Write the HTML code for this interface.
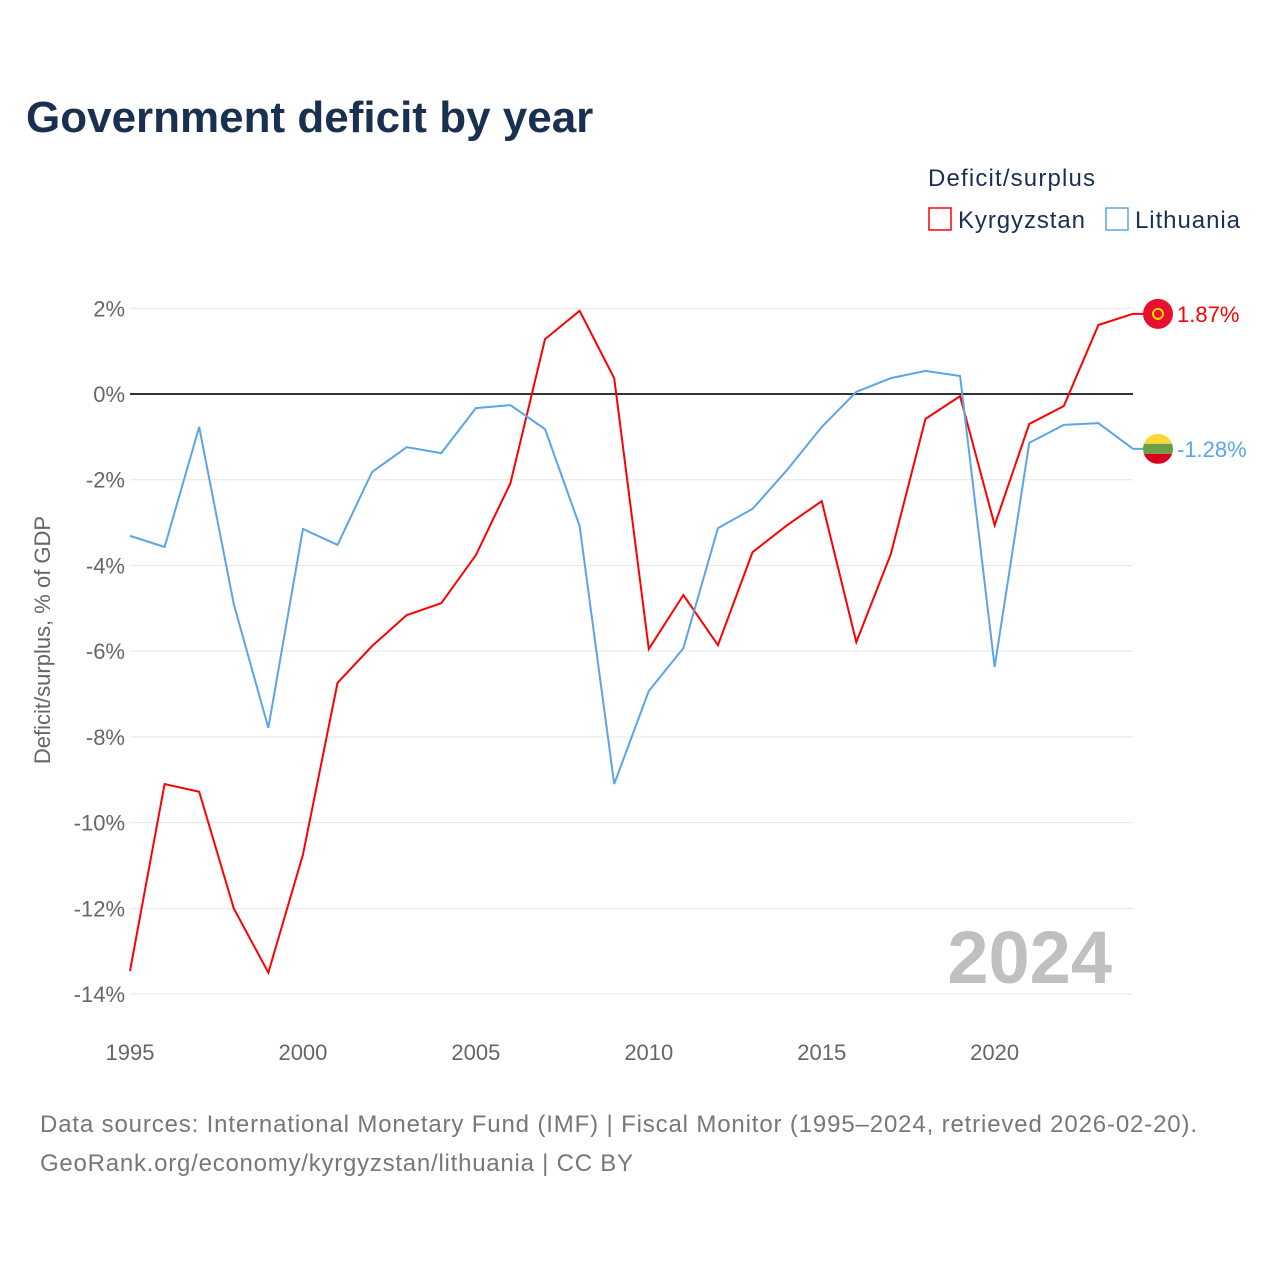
<!DOCTYPE html>
<html><head><meta charset="utf-8"><style>
body{margin:0;background:#fff;font-family:"Liberation Sans",sans-serif}
svg text{font-family:"Liberation Sans",sans-serif}
</style></head><body>
<svg width="1280" height="1280" xmlns="http://www.w3.org/2000/svg" id="chart">
<text x="26" y="132" font-size="44" font-weight="bold" fill="#1a3050">Government deficit by year</text>
<text x="928" y="186" font-size="24" fill="#1a3050" textLength="167">Deficit/surplus</text>
<g><rect x="929" y="208" width="22" height="22" fill="none" stroke="#f00" stroke-width="1.5"/><text x="958" y="228" font-size="24" fill="#1a3050" textLength="127">Kyrgyzstan</text></g>
<g><rect x="1106" y="208" width="22" height="22" fill="none" stroke="#5aa5ea" stroke-width="1.5"/><text x="1135" y="228" font-size="24" fill="#1a3050" textLength="105">Lithuania</text></g>
<g id="grid"></g>
<g id="series"></g>
<text x="1112" y="983" font-size="74" font-weight="bold" fill="#c0c0c0" text-anchor="end">2024</text>
<text transform="translate(50,640) rotate(-90)" font-size="22" fill="#666" text-anchor="middle">Deficit/surplus, % of GDP</text>
<text x="40" y="1132" font-size="24" fill="#777" textLength="1157">Data sources: International Monetary Fund (IMF) | Fiscal Monitor (1995–2024, retrieved 2026-02-20).</text>
<text x="40" y="1171" font-size="24" fill="#777" textLength="593">GeoRank.org/economy/kyrgyzstan/lithuania | CC BY</text>
</svg>
<script>
const years=[1995,1996,1997,1998,1999,2000,2001,2002,2003,2004,2005,2006,2007,2008,2009,2010,2011,2012,2013,2014,2015,2016,2017,2018,2019,2020,2021,2022,2023,2024];
const kyrgyzstan=[-13.46,-9.1,-9.28,-12.0,-13.5,-10.75,-6.74,-5.88,-5.16,-4.88,-3.76,-2.08,1.28,1.94,0.37,-5.95,-4.69,-5.86,-3.69,-3.06,-2.5,-5.79,-3.73,-0.58,-0.05,-3.06,-0.7,-0.28,1.61,1.87];
const lithuania=[-3.31,-3.57,-0.77,-4.9,-7.79,-3.15,-3.52,-1.82,-1.24,-1.38,-0.33,-0.26,-0.82,-3.08,-9.1,-6.93,-5.93,-3.13,-2.68,-1.77,-0.77,0.05,0.37,0.54,0.42,-6.37,-1.14,-0.72,-0.68,-1.28];
const yTicks=[2,0,-2,-4,-6,-8,-10,-12,-14];
const xTicks=[1995,2000,2005,2010,2015,2020];
const NS="http://www.w3.org/2000/svg";
const X=y=>130+(y-1995)*(1003/29);
const Y=v=>394-v*42.86;
function mk(t,a,p){const e=document.createElementNS(NS,t);for(const k in a)e.setAttribute(k,a[k]);p.appendChild(e);return e;}
const g=document.getElementById('grid'),s=document.getElementById('series');
yTicks.forEach(v=>{
 const l=mk('line',{x1:130,x2:1133,y1:Y(v),y2:Y(v),stroke:v===0?'#333':'#e6e6e6','stroke-width':v===0?2:1},g);
 
 
 const t=mk('text',{x:125,y:Y(v)+8,'font-size':22,fill:'#666','text-anchor':'end'},g);
 t.textContent=v+'%';
 
 
});
xTicks.forEach(v=>{
 const t=mk('text',{x:X(v),y:1060,'font-size':22,fill:'#666','text-anchor':'middle'},g);
 t.textContent=v;
 
 
});
function line(arr,col,name){
 const p=mk('polyline',{points:arr.map((v,i)=>X(years[i])+','+Y(v)).join(' '),fill:'none',stroke:col,'stroke-width':2},s);
 
 
 const last=arr[arr.length-1];
 const l=mk('line',{x1:X(2024),x2:1145,y1:Y(last),y2:Y(last),stroke:col,'stroke-width':2},s);
 
 
 const t=mk('text',{x:1177,y:Y(last)+8,'font-size':22,fill:col},s);
 t.textContent=last.toFixed(2)+'%';
 
 
 return Y(last);
}
const ky=line(kyrgyzstan,'#f00','kyrgyzstan-line');
const ly=line(lithuania,'#5aa5ea','lithuania-line');
let f=mk('g',{},s);


mk('circle',{cx:1158,cy:ky,r:15,fill:'#e8112d'},f);
mk('circle',{cx:1158,cy:ky,r:5,fill:'none',stroke:'#ffd700','stroke-width':2},f);
f=mk('g',{},s);


mk('clipPath',{id:'lc'},f).appendChild(document.createElementNS(NS,'circle'));
const cc=f.querySelector('clipPath circle');cc.setAttribute('cx',1158);cc.setAttribute('cy',ly);cc.setAttribute('r',15);
mk('rect',{x:1143,y:ly-15,width:30,height:10,fill:'#fdd835','clip-path':'url(#lc)'},f);
mk('rect',{x:1143,y:ly-5,width:30,height:10,fill:'#6a9f45','clip-path':'url(#lc)'},f);
mk('rect',{x:1143,y:ly+5,width:30,height:10,fill:'#d9001e','clip-path':'url(#lc)'},f);
</script>
</body></html>
